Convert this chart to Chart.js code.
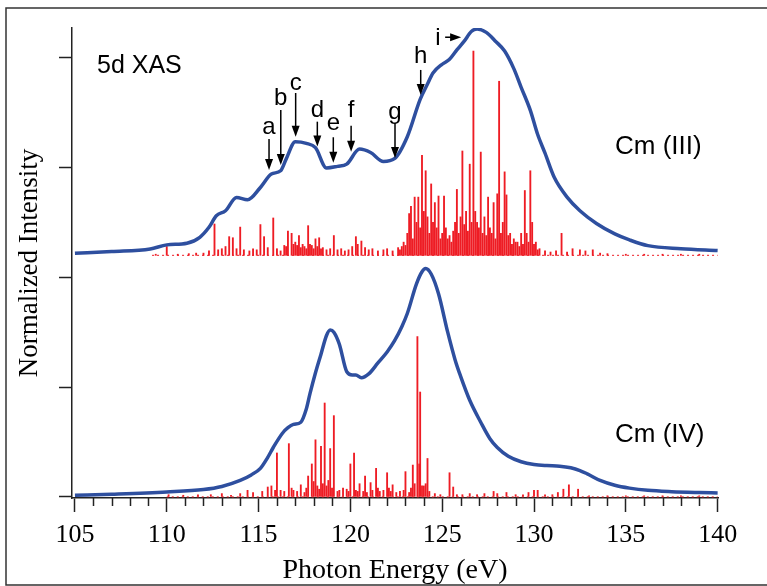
<!DOCTYPE html>
<html>
<head>
<meta charset="utf-8">
<script src="https://cdn.jsdelivr.net/npm/chart.js@4.4.1/dist/chart.umd.min.js"></script>
<style>
  body { margin: 0; background: #fff; }
  #wrap { width: 767px; height: 586px; }
</style>
</head>
<body>
<div id="wrap"><canvas id="myChart" width="767" height="586"></canvas></div>
<script>
// x axis ticks (eV)
var xTicks = [105, 110, 115, 120, 125, 130, 135, 140];
var yTicks = [0, 1, 2, 3, 4];

// Cm(III) is stacked above Cm(IV) by this offset
var offsetCm3 = 2.2;

// broadened spectra (energy, intensity)
var cm3Energy = [105, 107, 109.1, 110, 111.1, 111.8, 112.3, 112.7, 113.2, 113.8, 114.4, 115.1, 115.7, 116.2, 116.5, 117, 117.6, 118.1, 118.7, 119.3, 119.8, 120.5, 121.1, 121.8, 122.4, 123.1, 123.8, 124.2, 124.5, 125, 125.4, 125.8, 126.2, 126.6, 126.9, 127.4, 127.9, 128.4, 128.9, 129.3, 129.8, 130.2, 130.6, 131.1, 131.8, 132.5, 133.4, 134.4, 135.2, 136.2, 138, 140];
var cm3Intensity = [0.018, 0.035, 0.058, 0.095, 0.11, 0.164, 0.255, 0.36, 0.406, 0.527, 0.506, 0.618, 0.74, 0.77, 0.876, 1.034, 1.02, 0.98, 0.795, 0.81, 0.83, 0.967, 0.936, 0.855, 0.88, 1.08, 1.42, 1.56, 1.66, 1.74, 1.785, 1.87, 1.95, 2.04, 2.06, 2.03, 1.95, 1.86, 1.7, 1.53, 1.32, 1.1, 0.93, 0.71, 0.53, 0.406, 0.29, 0.195, 0.14, 0.088, 0.06, 0.043];

var cm4Energy = [105, 107, 110, 112, 113, 114, 114.6, 115.1, 115.5, 115.8, 116.3, 116.6, 116.9, 117.3, 117.6, 117.8, 118.1, 118.4, 118.7, 118.9, 119.1, 119.4, 119.8, 120.1, 120.3, 120.6, 121, 121.5, 122, 122.4, 122.8, 123.1, 123.6, 123.9, 124.1, 124.4, 124.8, 125.3, 125.7, 126, 126.5, 127.1, 127.6, 128, 128.6, 129.3, 130, 130.7, 131.4, 132, 132.5, 132.9, 133.6, 134.4, 135.2, 136.2, 137.5, 139, 140];
var cm4Intensity = [0.015, 0.025, 0.045, 0.067, 0.095, 0.15, 0.2, 0.26, 0.36, 0.45, 0.58, 0.63, 0.66, 0.68, 0.8, 0.94, 1.13, 1.3, 1.47, 1.52, 1.5, 1.39, 1.14, 1.11, 1.11, 1.085, 1.12, 1.22, 1.32, 1.42, 1.55, 1.67, 1.94, 2.05, 2.08, 2.03, 1.85, 1.5, 1.25, 1.1, 0.88, 0.68, 0.53, 0.45, 0.37, 0.32, 0.295, 0.285, 0.28, 0.265, 0.24, 0.21, 0.15, 0.106, 0.08, 0.06, 0.048, 0.04, 0.036];

// calculated transitions (stick spectra)
var cm3StickEnergy = [109.4, 110, 110.6, 111.2, 111.6, 112, 112.3, 112.6, 112.8, 113, 113.2, 113.4, 113.6, 113.8, 114, 114.2, 114.5, 114.7, 114.9, 115.1, 115.3, 115.5, 115.8, 116, 116.2, 116.4, 116.6, 116.8, 117, 117.2, 117.4, 117.5, 117.7, 117.9, 118.1, 118.3, 118.5, 118.7, 118.9, 119.1, 119.3, 119.5, 119.7, 119.9, 120.1, 120.3, 120.4, 120.6, 120.8, 121, 121.2, 121.5, 121.8, 122, 122.3, 122.6, 122.9, 123, 123.2, 123.3, 123.5, 123.6, 123.7, 123.9, 124, 124.1, 124.2, 124.4, 124.5, 124.6, 124.7, 124.8, 125, 125.1, 125.3, 125.5, 125.7, 125.8, 126, 126.1, 126.3, 126.5, 126.7, 126.8, 126.9, 127.1, 127.3, 127.5, 127.6, 127.8, 128, 128.1, 128.3, 128.4, 128.5, 128.7, 128.9, 129.1, 129.3, 129.5, 129.6, 129.8, 129.9, 130.1, 130.3, 130.6, 130.9, 131.2, 131.5, 131.8, 132.1, 132.5, 132.8, 133.2, 133.6, 134, 135, 136, 137, 138, 139];
var cm3StickHeight = [0.01, 0.08, 0.01, 0.015, 0.02, 0.02, 0.04, 0.285, 0.05, 0.06, 0.08, 0.17, 0.16, 0.06, 0.257, 0.05, 0.04, 0.06, 0.05, 0.28, 0.17, 0.07, 0.34, 0.06, 0.04, 0.09, 0.22, 0.2, 0.12, 0.18, 0.1, 0.08, 0.27, 0.09, 0.15, 0.16, 0.07, 0.05, 0.06, 0.18, 0.05, 0.06, 0.04, 0.05, 0.08, 0.17, 0.1, 0.13, 0.07, 0.05, 0.06, 0.04, 0.05, 0.06, 0.04, 0.07, 0.12, 0.09, 0.38, 0.445, 0.53, 0.3, 0.53, 0.91, 0.4, 0.77, 0.35, 0.65, 0.3, 0.48, 0.25, 0.54, 0.2, 0.54, 0.15, 0.12, 0.3, 0.6, 0.35, 0.95, 0.4, 0.83, 1.86, 0.4, 0.3, 0.94, 0.35, 0.53, 0.25, 0.48, 0.56, 1.585, 0.3, 0.76, 0.55, 0.2, 0.15, 0.12, 0.2, 0.59, 0.2, 0.77, 0.3, 0.12, 0.06, 0.04, 0.03, 0.04, 0.2, 0.03, 0.06, 0.05, 0.04, 0.05, 0.02, 0.015, 0.01, 0.01, 0.01, 0.01, 0.01];
// weaker lines filling the dense regions
var cm3WeakEnergy = [116.5, 116.9, 117.1, 117.3, 117.6, 117.8, 118.0, 118.2, 118.4, 122.7, 122.8, 123.1, 123.4, 123.8, 124.3, 124.9, 125.2, 125.4, 125.6, 125.9, 126.2, 126.4, 126.6, 127.0, 127.2, 127.4, 127.7, 127.9, 128.2, 128.6, 128.8, 129.0, 129.2, 129.4, 129.7, 130.0, 130.2];
var cm3WeakHeight = [0.08, 0.1, 0.09, 0.07, 0.06, 0.1, 0.06, 0.08, 0.06, 0.05, 0.08, 0.2, 0.15, 0.25, 0.2, 0.15, 0.25, 0.18, 0.22, 0.2, 0.28, 0.22, 0.3, 0.25, 0.2, 0.18, 0.2, 0.15, 0.2, 0.18, 0.1, 0.12, 0.08, 0.1, 0.12, 0.1, 0.05];

var cm4StickEnergy = [110.1, 110.9, 111.7, 112.4, 113, 113.5, 114, 114.4, 114.7, 115.2, 115.5, 115.7, 116, 116.2, 116.65, 116.9, 117.3, 117.5, 117.7, 117.9, 118, 118.1, 118.3, 118.4, 118.6, 118.7, 118.9, 119.1, 119.3, 119.6, 119.8, 120, 120.2, 120.4, 120.5, 120.8, 120.9, 121.1, 121.4, 121.6, 121.8, 122, 122.1, 122.3, 122.5, 122.7, 123, 123.2, 123.4, 123.65, 123.8, 123.9, 124, 124.2, 124.3, 124.6, 124.9, 125.4, 125.6, 125.8, 126.1, 126.5, 126.9, 127.3, 127.8, 128, 128.5, 129, 129.4, 129.7, 130, 130.2, 130.6, 131, 131.3, 131.6, 131.9, 132.4, 133, 134, 135, 136, 137, 138, 139];
var cm4StickHeight = [0.02, 0.015, 0.02, 0.02, 0.03, 0.015, 0.03, 0.06, 0.04, 0.05, 0.09, 0.1, 0.4, 0.06, 0.485, 0.06, 0.11, 0.04, 0.19, 0.3, 0.14, 0.52, 0.07, 0.46, 0.855, 0.1, 0.44, 0.74, 0.05, 0.08, 0.07, 0.3, 0.4, 0.05, 0.12, 0.19, 0.04, 0.13, 0.26, 0.05, 0.06, 0.22, 0.08, 0.11, 0.04, 0.05, 0.23, 0.04, 0.29, 1.46, 0.955, 0.1, 0.1, 0.35, 0.05, 0.03, 0.02, 0.22, 0.09, 0.02, 0.02, 0.03, 0.02, 0.03, 0.05, 0.03, 0.04, 0.02, 0.02, 0.04, 0.06, 0.06, 0.02, 0.02, 0.04, 0.07, 0.11, 0.07, 0.01, 0.01, 0.01, 0.01, 0.01, 0.01, 0.01];
var cm4WeakEnergy = [115.9, 116.4, 116.8, 117.1, 117.6, 118.2, 118.5, 118.8, 119.0, 119.4, 119.9, 120.3, 120.7, 121.2, 121.5, 122.2, 122.9, 123.3, 123.5, 123.75, 124.1];
var cm4WeakHeight = [0.06, 0.05, 0.08, 0.05, 0.08, 0.1, 0.12, 0.15, 0.08, 0.06, 0.05, 0.06, 0.05, 0.06, 0.08, 0.05, 0.06, 0.08, 0.12, 0.3, 0.12];

// feature markers on the Cm(III) curve: label, energy, arrow tail / tip, label height
var markerLabels = ['a', 'b', 'c', 'd', 'e', 'f', 'g', 'h'];
var markerEnergy = [115.57, 116.21, 117.02, 118.2, 119.07, 120.04, 122.43, 123.83];
var markerTail = [3.26, 3.524, 3.678, 3.417, 3.275, 3.38, 3.405, 3.888];
var markerTip = [2.977, 3.023, 3.28, 3.19, 3.044, 3.144, 3.087, 3.66];
var markerText = [3.369, 3.633, 3.77, 3.524, 3.40, 3.52, 3.50, 4.009];

var blue = '#2e4f9f';
var red = '#ee1c24';

function pairs(xs, ys, off) {
  return xs.map(function (x, i) { return { x: x, y: ys[i] + off }; });
}
function sticks(xs, hs, off) {
  return xs.map(function (x, i) { return { x: x, y: [off, off + hs[i]] }; });
}

function downArrow(ctx, px, y0, y1) {
  ctx.beginPath();
  ctx.moveTo(px, y0);
  ctx.lineTo(px, y1 - 9);
  ctx.stroke();
  ctx.beginPath();
  ctx.moveTo(px - 4, y1 - 11);
  ctx.lineTo(px + 4, y1 - 11);
  ctx.lineTo(px, y1);
  ctx.closePath();
  ctx.fill();
}

var annotatePlugin = {
  id: 'annotate',
  afterDatasetsDraw: function (chart) {
    var ctx = chart.ctx;
    var xs = chart.scales.x, ys = chart.scales.y;
    ctx.save();
    ctx.fillStyle = '#000';
    ctx.strokeStyle = '#000';
    ctx.lineWidth = 1.5;
    ctx.font = '24px "Liberation Sans", Arial, sans-serif';
    ctx.textAlign = 'center';
    ctx.textBaseline = 'middle';

    markerLabels.forEach(function (lab, i) {
      var px = xs.getPixelForValue(markerEnergy[i]);
      downArrow(ctx, px, ys.getPixelForValue(markerTail[i]), ys.getPixelForValue(markerTip[i]));
      ctx.fillText(lab, px, ys.getPixelForValue(markerText[i]));
    });

    // "i" with horizontal arrow
    var iy = ys.getPixelForValue(4.186);
    ctx.fillText('i', xs.getPixelForValue(124.77), ys.getPixelForValue(4.176));
    var ax0 = xs.getPixelForValue(125.16), ax1 = xs.getPixelForValue(126.03);
    ctx.beginPath();
    ctx.moveTo(ax0, iy);
    ctx.lineTo(ax1 - 8, iy);
    ctx.stroke();
    ctx.beginPath();
    ctx.moveTo(ax1 - 11, iy - 4);
    ctx.lineTo(ax1 - 11, iy + 4);
    ctx.lineTo(ax1, iy);
    ctx.closePath();
    ctx.fill();

    ctx.font = '25px "Liberation Sans", Arial, sans-serif';
    ctx.textAlign = 'left';
    ctx.fillText('5d XAS', xs.getPixelForValue(106.2), ys.getPixelForValue(3.924));
    ctx.font = '26px "Liberation Sans", Arial, sans-serif';
    ctx.fillText('Cm (III)', xs.getPixelForValue(134.41), ys.getPixelForValue(3.187));
    ctx.fillText('Cm (IV)', xs.getPixelForValue(134.41), ys.getPixelForValue(0.564));

    // minor ticks on the energy axis
    ctx.strokeStyle = '#222';
    ctx.lineWidth = 1.5;
    var b = chart.chartArea.bottom;
    for (var e = 106; e < 140; e++) {
      if (e % 5 === 0) continue;
      var p = Math.round(xs.getPixelForValue(e)) + 0.5;
      ctx.beginPath();
      ctx.moveTo(p, b);
      ctx.lineTo(p, b + 8);
      ctx.stroke();
    }

    // figure frame
    ctx.strokeStyle = '#333';
    ctx.lineWidth = 1.5;
    ctx.beginPath();
    ctx.moveTo(767, 8);
    ctx.lineTo(6, 8);
    ctx.lineTo(6, 585);
    ctx.lineTo(767, 585);
    ctx.stroke();
    ctx.restore();
  }
};

function stickSet(xs, hs, off) {
  return {
    type: 'bar', data: sticks(xs, hs, off),
    backgroundColor: red, barThickness: 1.2, grouped: false, order: 2
  };
}

var config = {
  type: 'line',
  data: {
    datasets: [
      {
        type: 'line', data: pairs(cm3Energy, cm3Intensity, offsetCm3),
        borderColor: blue, borderWidth: 3.5, pointRadius: 0,
        cubicInterpolationMode: 'monotone', order: 0
      },
      {
        type: 'line', data: pairs(cm4Energy, cm4Intensity, 0),
        borderColor: blue, borderWidth: 3.5, pointRadius: 0,
        cubicInterpolationMode: 'monotone', order: 0
      },
      stickSet(cm3StickEnergy, cm3StickHeight, offsetCm3),
      stickSet(cm3WeakEnergy, cm3WeakHeight, offsetCm3),
      stickSet(cm4StickEnergy, cm4StickHeight, 0),
      stickSet(cm4WeakEnergy, cm4WeakHeight, 0),
      {
        type: 'line', data: [{ x: 109.2, y: offsetCm3 }, { x: 140, y: offsetCm3 }],
        borderColor: red, borderWidth: 1, borderDash: [2, 3], pointRadius: 0, order: 3
      },
      {
        type: 'line', data: [{ x: 110, y: 0 }, { x: 140, y: 0 }],
        borderColor: red, borderWidth: 1, borderDash: [2, 3], pointRadius: 0, order: 3
      }
    ]
  },
  options: {
    responsive: false,
    animation: false,
    devicePixelRatio: 1,
    layout: { padding: { left: 8, right: 49, top: 28, bottom: 0 } },
    plugins: {
      legend: { display: false },
      tooltip: { enabled: false }
    },
    scales: {
      x: {
        type: 'linear',
        min: 104.84,
        max: 140.02,
        offset: false,
        afterBuildTicks: function (s) { s.ticks = xTicks.map(function (v) { return { value: v }; }); },
        afterFit: function (s) { s.height = 88; },
        grid: { drawOnChartArea: false, offset: false, tickLength: 14, tickWidth: 1.5, tickColor: '#222' },
        border: { display: true, color: '#222', width: 1.5 },
        ticks: {
          padding: 8, color: '#000', maxRotation: 0, autoSkip: false,
          font: { family: '"Liberation Serif", "Times New Roman", serif', size: 26 }
        },
        title: {
          display: true, text: 'Photon Energy (eV)', color: '#000',
          font: { family: '"Liberation Serif", "Times New Roman", serif', size: 28, lineHeight: 1 },
          padding: { top: 0, bottom: 1 }
        }
      },
      y: {
        type: 'linear',
        min: -0.01,
        max: 4.27,
        afterBuildTicks: function (s) { s.ticks = yTicks.map(function (v) { return { value: v }; }); },
        afterFit: function (s) { s.width = 64; },
        grid: { drawOnChartArea: false, tickLength: 13, tickWidth: 1.5, tickColor: '#222' },
        border: { display: true, color: '#222', width: 1.5 },
        ticks: { display: false },
        title: {
          display: true, text: 'Normalized Intensity', color: '#000',
          font: { family: '"Liberation Serif", "Times New Roman", serif', size: 27, lineHeight: 1 },
          padding: { top: 8, bottom: 0 }
        }
      }
    }
  },
  plugins: [annotatePlugin]
};

new Chart(document.getElementById('myChart'), config);
</script>
</body>
</html>
